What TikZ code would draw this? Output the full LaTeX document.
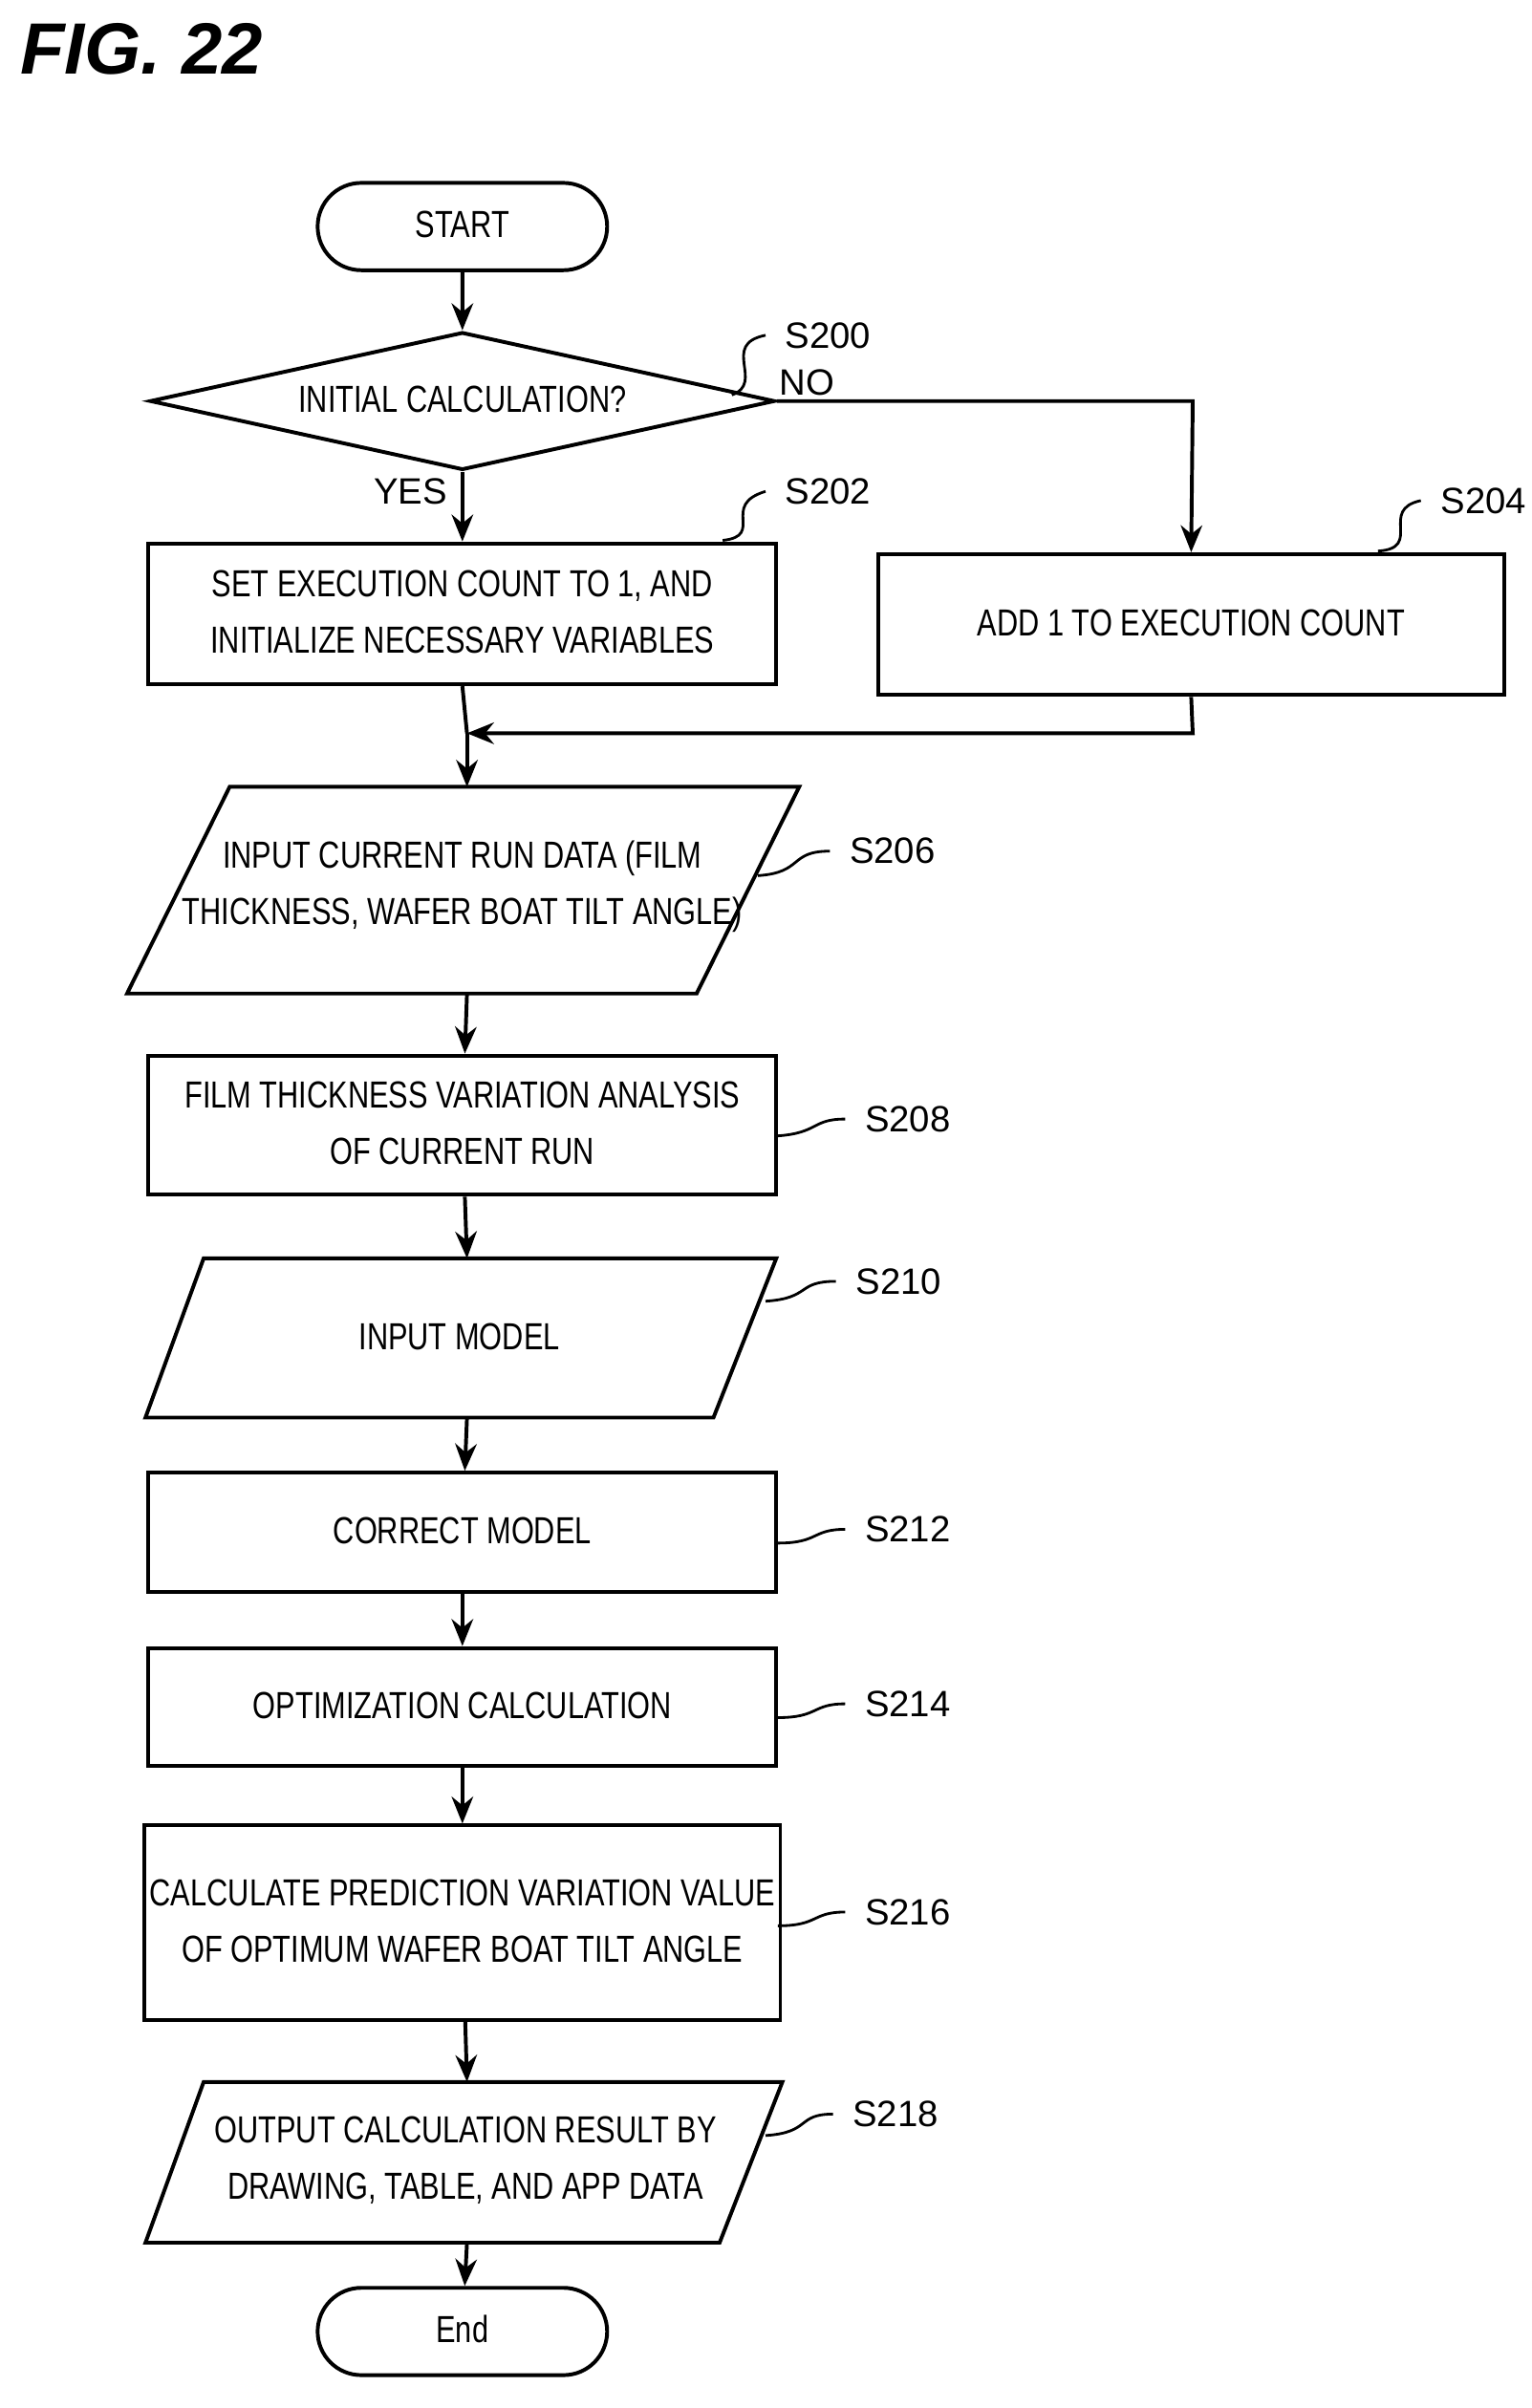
\documentclass[tikz,border=0pt]{standalone}
\usepackage{fontspec}
\setmainfont{Liberation Sans}
\usetikzlibrary{shapes.geometric,shapes.misc,arrows.meta}
\newcommand{\nt}[1]{\scalebox{0.78}[1]{\begin{tabular}{@{}c@{}}#1\end{tabular}}}
\begin{document}
\begin{tikzpicture}[x=0.01cm,y=-0.01cm,line width=0.7pt,
  box/.style={draw,rectangle,minimum width=4.1cm,inner sep=1pt,font=\fontsize{7}{10.5}\selectfont},
  term/.style={draw,rounded rectangle,minimum width=1.96cm,minimum height=0.57cm,inner sep=1pt,font=\fontsize{7}{10}\selectfont},
  lbl/.style={font=\fontsize{6.8}{8}\selectfont},
  txt/.style={font=\fontsize{7}{10.5}\selectfont},
  arr/.style={-{Stealth[length=5pt,width=4pt]}},
  sq/.style={line width=0.5pt}]
\useasboundingbox (0,0) rectangle (1000,1573);
\node[font=\bfseries\itshape\fontsize{13.5}{16}\selectfont,anchor=west,inner sep=0pt] (fig) at (12,32) {FIG. 22};
\node[term] (start) at (302,148) {\nt{START}};
\node[draw,diamond,aspect=4.5,minimum width=4.08cm,minimum height=0.9cm,inner sep=0pt] (d) at (302,262) {};
\node[txt] (dt) at (302,262) {\nt{INITIAL CALCULATION?}};
\node[box,minimum height=0.92cm] (s202) at (302,401) {\nt{SET EXECUTION COUNT TO 1, AND\\INITIALIZE NECESSARY VARIABLES}};
\node[box,minimum height=0.92cm,minimum width=4.09cm] (s204) at (778,408) {\nt{ADD 1 TO EXECUTION COUNT}};
\coordinate (j) at (305,479);
\draw (150,514)--(522,514)--(455,649)--(83,649)--cycle;
\node[txt] (s206) at (302,578) {\nt{INPUT CURRENT RUN DATA (FILM\\THICKNESS, WAFER BOAT TILT ANGLE)}};
\coordinate (p206t) at (305,514); \coordinate (p206b) at (305,649);
\node[box,minimum height=0.91cm] (s208) at (302,735) {\nt{FILM THICKNESS VARIATION ANALYSIS\\OF CURRENT RUN}};
\draw (133,822)--(507,822)--(466,926)--(95,926)--cycle;
\node[txt] (s210) at (300,874) {\nt{INPUT MODEL}};
\coordinate (p210t) at (305,822); \coordinate (p210b) at (305,926);
\node[box,minimum height=0.78cm] (s212) at (302,1001) {\nt{CORRECT MODEL}};
\node[box,minimum height=0.77cm] (s214) at (302,1115) {\nt{OPTIMIZATION CALCULATION}};
\node[box,minimum height=1.27cm] (s216) at (302,1256) {\nt{CALCULATE PREDICTION VARIATION VALUE\\OF OPTIMUM WAFER BOAT TILT ANGLE}};
\draw (133,1360)--(511,1360)--(470,1465)--(95,1465)--cycle;
\node[txt] (s218) at (304,1411) {\nt{OUTPUT CALCULATION RESULT BY\\DRAWING, TABLE, AND APP DATA}};
\coordinate (p218t) at (305,1360); \coordinate (p218b) at (305,1465);
\node[term] (end) at (302,1523) {\nt{End}};
\draw[arr] (start) -- (d);
\draw[arr] (d.south) -- (s202.north);
\coordinate (c1) at (779,262);
\draw[arr] (d.east) -- (c1) -- (s204.north);
\draw (s202.south) -- (j);
\coordinate (c2) at (779,479);
\draw[arr] (s204.south) -- (c2) -- (j);
\draw[arr] (j) -- (p206t);
\draw[arr] (p206b) -- (s208);
\draw[arr] (s208) -- (p210t);
\draw[arr] (p210b) -- (s212);
\draw[arr] (s212) -- (s214);
\draw[arr] (s214) -- (s216);
\draw[arr] (s216) -- (p218t);
\draw[arr] (p218b) -- (end);
\node[lbl] (yes) at (268,321) {YES};
\node[lbl] (no) at (527,250) {NO};
\node[lbl,anchor=west] (l200) at (500,219) {S200};
\node[lbl,anchor=west] (l202) at (500,321) {S202};
\node[lbl,anchor=west] (l204) at (928,327) {S204};
\node[lbl,anchor=west] (l206) at (542,556) {S206};
\node[lbl,anchor=west] (l208) at (552,731) {S208};
\node[lbl,anchor=west] (l210) at (546,837) {S210};
\node[lbl,anchor=west] (l212) at (552,999) {S212};
\node[lbl,anchor=west] (l214) at (552,1113) {S214};
\node[lbl,anchor=west] (l216) at (552,1249) {S216};
\node[lbl,anchor=west] (l218) at (544,1381) {S218};
\draw[sq] (l200.west) .. controls (470,225) and (500,250) .. (478,258);
\draw[sq] (l202.west) .. controls (470,330) and (500,350) .. (472,353);
\draw[sq] (l204.west) .. controls (900,333) and (930,358) .. (900,360);
\draw[sq] (l206.west) .. controls (515,556) and (525,570) .. (495,572);
\draw[sq] (l208.west) .. controls (530,731) and (535,740) .. (508,742);
\draw[sq] (l210.west) .. controls (520,837) and (530,848) .. (500,850);
\draw[sq] (l212.west) .. controls (530,999) and (535,1008) .. (508,1008);
\draw[sq] (l214.west) .. controls (530,1113) and (535,1122) .. (508,1122);
\draw[sq] (l216.west) .. controls (530,1249) and (535,1258) .. (508,1258);
\draw[sq] (l218.west) .. controls (520,1381) and (530,1393) .. (500,1395);
\end{tikzpicture}
\end{document}
